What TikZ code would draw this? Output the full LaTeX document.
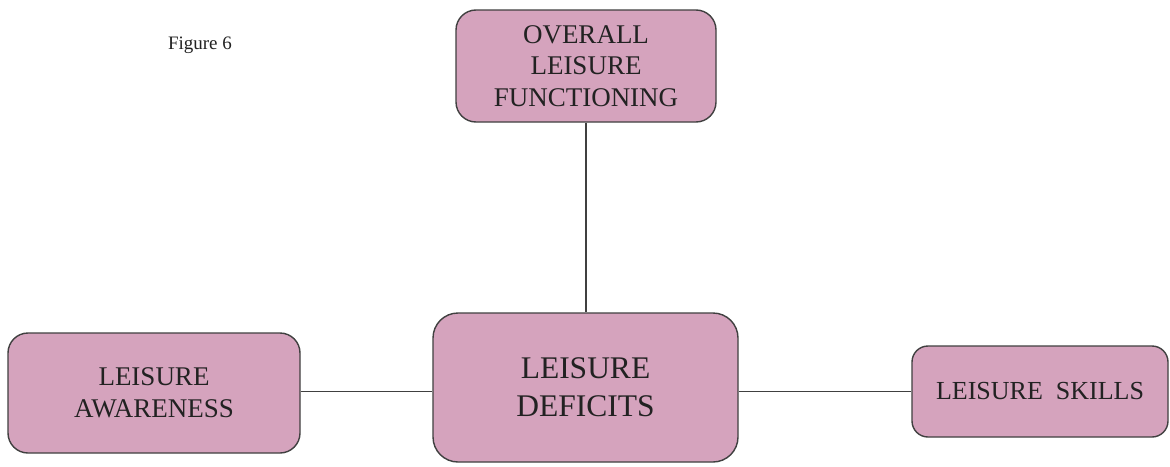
\documentclass[tikz,border=0pt]{standalone}
\usepackage{fontspec}
\setmainfont{Liberation Serif}
\definecolor{boxfill}{HTML}{D5A3BD}
\definecolor{boxline}{HTML}{404040}
\definecolor{ink}{HTML}{222222}
\begin{document}
\begin{tikzpicture}[x=1pt,y=-1pt,
  pinkbox/.style={draw=boxline,fill=boxfill,line width=1.4pt,text=ink,
    align=center,inner sep=0pt},
  link/.style={draw=boxline,line width=1.3pt}]
\useasboundingbox (0,0) rectangle (1170,466);
\fill[white] (0,0) rectangle (1170,466);

\node[text=ink,font=\fontsize{19}{22}\selectfont] (fig) at (200,45) {Figure 6};

\node[pinkbox,minimum width=260pt,minimum height=112pt,rounded corners=20pt,
  font=\fontsize{27}{31.5}\selectfont] (overall) at (586,66)
  {\raisebox{-2pt}{\parbox{250pt}{\centering OVERALL\\LEISURE\\FUNCTIONING}}};
\node[pinkbox,minimum width=305pt,minimum height=149pt,rounded corners=25pt,
  font=\fontsize{31.5}{38}\selectfont] (deficits) at (585.5,387.5)
  {\raisebox{-4pt}{\parbox{290pt}{\centering LEISURE\\DEFICITS}}};
\node[pinkbox,minimum width=292pt,minimum height=120pt,rounded corners=20pt,
  font=\fontsize{27}{32}\selectfont] (awareness) at (154,393)
  {\raisebox{-2pt}{\parbox{280pt}{\centering LEISURE\\AWARENESS}}};
\node[pinkbox,minimum width=256pt,minimum height=91pt,rounded corners=16pt,
  font=\fontsize{26}{30}\selectfont] (skills) at (1040,391.5)
  {LEISURE\ \ SKILLS};

\draw[link] (overall.south) -- (overall.south |- deficits.north);
\draw[link] (awareness.east |- skills.west) -- (deficits.west |- skills.west);
\draw[link] (deficits.east |- skills.west) -- (skills.west);
\end{tikzpicture}
\end{document}
